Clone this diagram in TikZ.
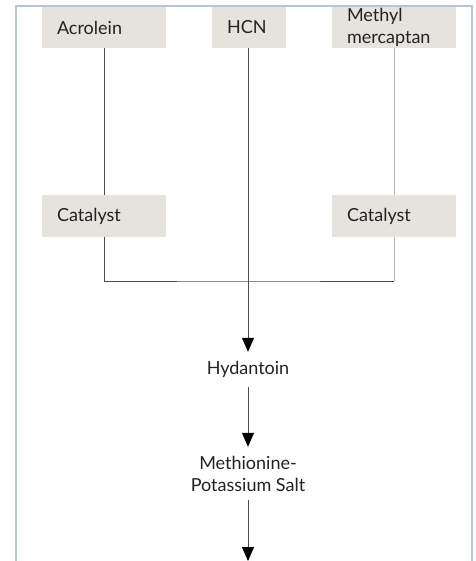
\documentclass[tikz,border=0pt]{standalone}
\usepackage{fontspec}
\setmainfont{Lato}
\usepackage{xcolor}
\usepackage{tikz}
\usetikzlibrary{calc,arrows.meta}

\definecolor{framegray}{HTML}{B7C6D2}
\definecolor{boxgray}{HTML}{E6E3DF}
\definecolor{linedark}{HTML}{4D4D4D}
\definecolor{linelight}{HTML}{B9B4AE}
\definecolor{textdark}{HTML}{222222}

\begin{document}
\begin{tikzpicture}[x=1pt,y=-1pt,
  feed/.style={fill=boxgray, minimum height=41, inner xsep=15, inner ysep=0,
    align=left, text=textdark, font=\fontsize{18}{22}\selectfont},
  product/.style={inner sep=0, align=center, text=textdark,
    font=\fontsize{18}{22}\selectfont},
  pipe/.style={draw=linedark, line width=1pt},
  pipelight/.style={draw=linelight, line width=1pt},
  flow/.style={pipe, -{Triangle[length=14,width=12,color=black,fill=black]}}]

\useasboundingbox (0,0) rectangle (475,561);

% =====================
% Frame round the panel
% =====================
\draw[framegray, line width=1.2pt] (16,561) -- (16,6) -- (472,6) -- (472,561);

% =====================
% Raw materials
% =====================
\node[feed, text width=94] (acrolein) at (104,27.5) {Acrolein};
\node[feed, text width=44] (hcn) at (249,27.5) {HCN};
\node[feed, text width=94] (mercaptan) at (394,27.5) {Methyl\\mercaptan};

% =====================
% Catalysts
% =====================
\node[feed, text width=94] (catL) at (104,216) {Catalyst};
\node[feed, text width=94] (catR) at (394,216) {Catalyst};

% =====================
% Products
% =====================
\node[product, minimum height=35] (hydantoin) at (248,369.5) {Hydantoin};
\node[product, minimum height=53] (salt) at (248,473.5) {Methionine-\\Potassium Salt};
\coordinate (out) at (248,561);

% =====================
% Connections
% =====================
\draw[pipe] (acrolein) -- (catL);
\draw[pipelight] (mercaptan) -- (catR);
\draw[pipe] (catL.south) |- (248,281) -- (394,281);
\draw[pipelight] (catR.south) -- (394,281);

\draw[flow] (hcn.south -| hydantoin) -- (hydantoin.north);
\draw[flow] (hydantoin) -- (salt);
\draw[flow] (salt) -- (out);
\end{tikzpicture}
\end{document}
